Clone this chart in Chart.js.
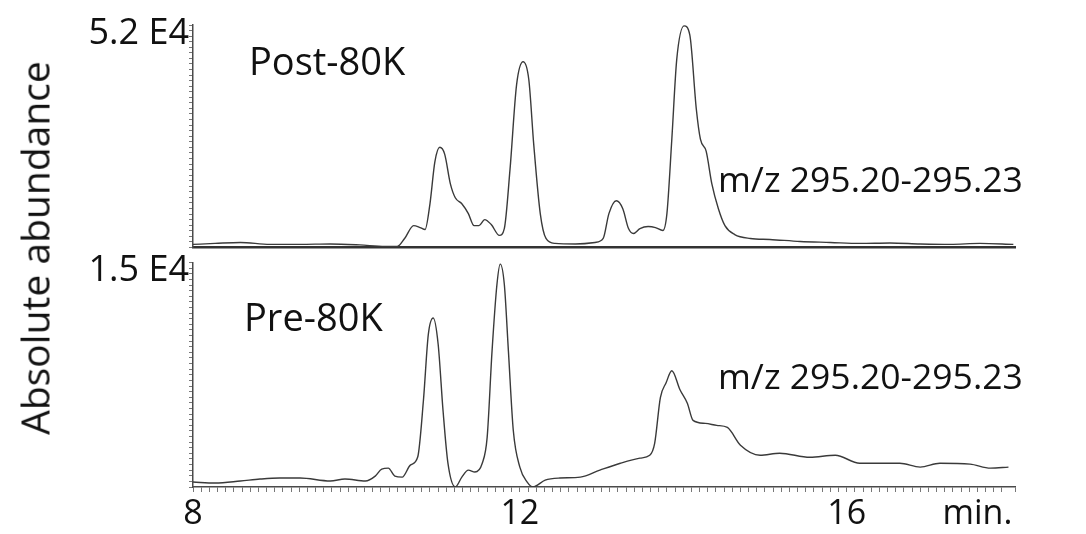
<!DOCTYPE html>
<html>
<head>
<meta charset="utf-8">
<script src="https://cdn.jsdelivr.net/npm/chart.js@4.4.1/dist/chart.umd.min.js"></script>
<style>
    body { margin: 0; background: #fff; }
    #wrap { position: relative; width: 1086px; height: 534px; font-family: 'Open Sans', sans-serif; color: #111; }
    .panel { position: absolute; left: 0; }
    .lbl { position: absolute; font-size: 38px; white-space: nowrap; line-height: 1; }
    .mz { font-size: 35.5px; }
    #ytitle { position: absolute; left: 34px; top: 248px; font-size: 39px; white-space: nowrap;
              transform: translate(-50%, -50%) rotate(-90deg); line-height: 1; }
</style>
</head>
<body>
<div id="wrap">
    <canvas id="postChart" class="panel" style="top:0" width="1086" height="269"></canvas>
    <canvas id="preChart" class="panel" style="top:241px" width="1086" height="293"></canvas>
    <div class="lbl" style="left:249px; top:41px">Post-80K</div>
    <div class="lbl mz" style="left:718px; top:161px">m/z 295.20-295.23</div>
    <div class="lbl" style="left:244px; top:297px">Pre-80K</div>
    <div class="lbl mz" style="left:718px; top:358px">m/z 295.20-295.23</div>
    <div id="ytitle">Absolute abundance</div>
</div>
<script>
// retention time (min) and abundance for the two runs
var postTime = [8.00, 8.27, 8.58, 8.94, 9.31, 9.68, 10.04, 10.35, 10.50, 10.59, 10.70, 10.78, 10.84, 10.90,
    10.96, 11.02, 11.08, 11.15, 11.21, 11.29, 11.37, 11.44, 11.50, 11.57, 11.65, 11.75, 11.81, 11.88,
    11.96, 12.04, 12.11, 12.17, 12.25, 12.32, 12.43, 12.68, 12.92, 13.02, 13.09, 13.18, 13.26, 13.33,
    13.39, 13.47, 13.57, 13.66, 13.75, 13.80, 13.86, 13.92, 14.01, 14.08, 14.16, 14.21, 14.28, 14.35,
    14.43, 14.51, 14.63, 14.82, 15.06, 15.43, 15.80, 16.16, 16.53, 16.90, 17.27, 17.63, 18.04];
var postAbund = [700, 930, 1160, 700, 700, 810, 580, 230, 230, 2090, 5100, 4640, 4180, 10200,
    20000, 23400, 21800, 14850, 11600, 10200, 7900, 5100, 5100, 6500, 5340, 2800, 4400, 18300,
    38000, 43400, 39200, 24100, 7900, 2090, 930, 810, 1160, 2090, 7900, 10900, 9050, 4400,
    3250, 4400, 4870, 4640, 3950, 7900, 25300, 43900, 51800, 49700, 32300, 25300, 22500, 14850,
    9050, 5100, 3000, 2090, 1860, 1390, 1160, 930, 1040, 810, 700, 930, 700];

var preTime = [8.00, 8.27, 8.58, 8.82, 9.06, 9.31, 9.68, 9.86, 10.11, 10.23, 10.31, 10.39, 10.47, 10.56,
    10.66, 10.75, 10.82, 10.88, 10.94, 11.00, 11.06, 11.12, 11.21, 11.29, 11.37, 11.45, 11.54, 11.60,
    11.66, 11.72, 11.76, 11.81, 11.86, 11.92, 12.00, 12.09, 12.16, 12.31, 12.49, 12.74, 12.98, 13.23,
    13.47, 13.59, 13.65, 13.72, 13.79, 13.86, 13.96, 14.05, 14.12, 14.27, 14.41, 14.54, 14.70, 14.94,
    15.18, 15.55, 15.86, 16.16, 16.65, 16.90, 17.14, 17.51, 17.76, 17.98];
var preAbund = [330, 270, 400, 530, 600, 600, 400, 530, 400, 730, 1200, 1260, 730, 660,
    1460, 2000, 5780, 10200, 11300, 9560, 5110, 1590, 0, 660, 1130, 1000, 1590, 3320,
    9100, 13550, 14900, 13550, 9100, 3780, 1330, 330, 0, 460, 600, 660, 1130, 1590,
    1930, 2120, 2920, 5980, 6970, 7770, 6500, 5600, 4450, 4250, 4120, 3980, 2790, 2120,
    2260, 1990, 2120, 1590, 1590, 1330, 1590, 1530, 1260, 1330];

// axis ranges and the few tick labels that are printed
var timeMin = 8, timeMax = 18.06;
var timeLabels = [8, 12, 16];
var unitLabelAt = 17.6;
var postMax = 52000, postMaxLabel = '5.2 E4';
var preMax = 15000, preMaxLabel = '1.5 E4';

var tickFont = { family: 'Open Sans', size: 34 };
var yLabelFont = { family: 'Open Sans', size: 36 };
var lineColor = '#3a3a3a';
var axisColor = '#4a4a4a';

function toPoints(xs, ys) {
    return xs.map(function (x, i) { return { x: x, y: ys[i] }; });
}

function traceDataset(xs, ys) {
    return {
        data: toPoints(xs, ys),
        borderColor: lineColor,
        borderWidth: 1.4,
        pointRadius: 0,
        fill: false,
        cubicInterpolationMode: 'monotone'
    };
}

function yScale(max, label, offset) {
    return {
        min: 0,
        max: max,
        afterFit: function (scale) { scale.width = 193; },
        border: { color: axisColor, width: 1.5 },
        grid: { drawOnChartArea: false, drawTicks: true, tickLength: 4, color: '#777' },
        ticks: {
            stepSize: max / 40,
            autoSkip: false,
            padding: 0,
            labelOffset: offset,
            color: '#111',
            font: yLabelFont,
            callback: function (value) {
                return Math.abs(value - max) < 1 ? label : '';
            }
        }
    };
}

var common = {
    responsive: false,
    animation: false,
    plugins: { legend: { display: false }, tooltip: { enabled: false } }
};

// upper run: plot area 25..249
new Chart(document.getElementById('postChart'), {
    type: 'line',
    data: { datasets: [traceDataset(postTime, postAbund)] },
    options: Object.assign({}, common, {
        layout: { padding: { top: 25, right: 71, bottom: 0, left: 0 } },
        scales: {
            x: {
                type: 'linear',
                min: timeMin,
                max: timeMax,
                border: { color: '#333', width: 2.5 },
                grid: { display: false, drawTicks: false },
                ticks: { display: false }
            },
            y: yScale(postMax, postMaxLabel, 9)
        }
    })
});

// lower run: plot area 261..487 with the time axis
new Chart(document.getElementById('preChart'), {
    type: 'line',
    data: { datasets: [traceDataset(preTime, preAbund)] },
    options: Object.assign({}, common, {
        layout: { padding: { top: 0, right: 71, bottom: 0, left: 0 } },
        scales: {
            x: {
                type: 'linear',
                min: timeMin,
                max: timeMax,
                afterFit: function (scale) { scale.height = 47; },
                border: { color: axisColor, width: 1.5 },
                grid: { drawOnChartArea: false, drawTicks: true, tickLength: 5, color: '#777' },
                ticks: {
                    stepSize: 0.1,
                    autoSkip: false,
                    maxRotation: 0,
                    minRotation: 0,
                    padding: 2,
                    color: '#111',
                    font: tickFont,
                    callback: function (value) {
                        var v = Math.round(value * 10) / 10;
                        if (timeLabels.indexOf(v) >= 0) return String(v);
                        if (v === unitLabelAt) return 'min.';
                        return '';
                    }
                }
            },
            y: yScale(preMax, preMaxLabel, 8)
        }
    })
});
</script>
</body>
</html>
